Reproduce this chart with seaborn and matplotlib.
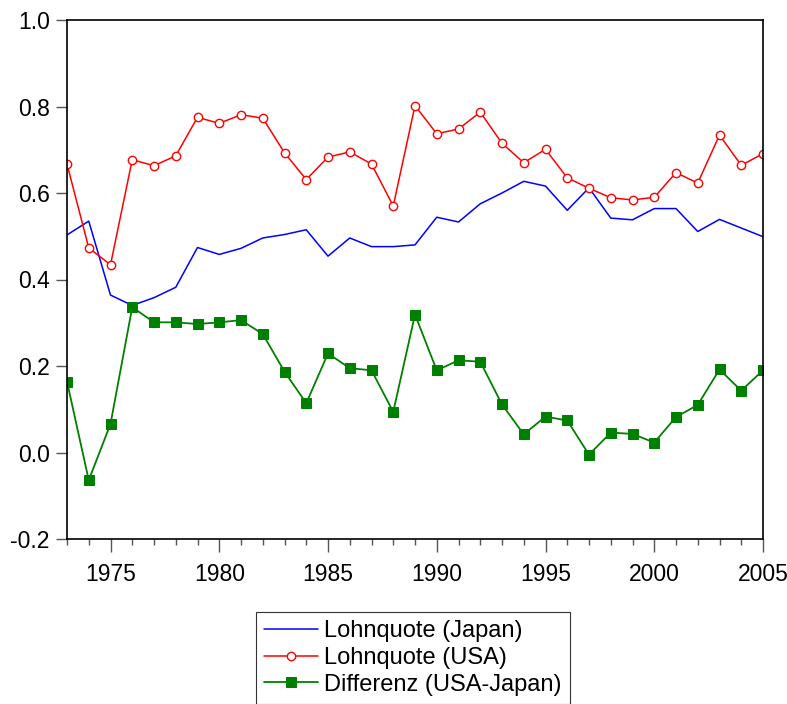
import matplotlib
matplotlib.use("Agg")
import matplotlib.pyplot as plt
from matplotlib.ticker import MultipleLocator
import seaborn as sns
import pandas as pd

years = list(range(1973, 2006))
japan = [0.503, 0.535, 0.364, 0.340, 0.358, 0.382, 0.474, 0.458, 0.472, 0.496,
         0.504, 0.515, 0.454, 0.496, 0.476, 0.476, 0.480, 0.544, 0.533, 0.575,
         0.600, 0.627, 0.616, 0.560, 0.612, 0.542, 0.538, 0.564, 0.564, 0.511,
         0.539, 0.519, 0.499]
usa = [0.667, 0.473, 0.434, 0.677, 0.663, 0.686, 0.775, 0.761, 0.781, 0.773,
       0.693, 0.631, 0.683, 0.695, 0.667, 0.570, 0.802, 0.737, 0.748, 0.787,
       0.715, 0.670, 0.701, 0.635, 0.611, 0.589, 0.584, 0.590, 0.647, 0.623,
       0.734, 0.664, 0.691]
diff = [0.164, -0.064, 0.066, 0.336, 0.301, 0.301, 0.297, 0.301, 0.306, 0.274,
        0.187, 0.114, 0.229, 0.195, 0.190, 0.094, 0.319, 0.190, 0.213, 0.210,
        0.111, 0.042, 0.083, 0.074, -0.005, 0.046, 0.043, 0.023, 0.082, 0.110,
        0.192, 0.143, 0.190]
labels = ["Lohnquote (Japan)", "Lohnquote (USA)", "Differenz (USA-Japan)"]
xticks = [1975, 1980, 1985, 1990, 1995, 2000, 2005]
yticks = [-0.2, 0.0, 0.2, 0.4, 0.6, 0.8, 1.0]

df = pd.DataFrame({"year": years, "japan": japan, "usa": usa, "diff": diff})

sns.set_style("white")
plt.rcParams["font.family"] = ["Liberation Sans", "DejaVu Sans"]
plt.rcParams["text.color"] = "black"

fig = plt.figure(figsize=(7.87, 7.04), dpi=100)
ax = fig.add_axes([67 / 787, 1 - 539 / 704, (763 - 67) / 787, (539 - 20) / 704])

sns.lineplot(data=df, x="year", y="japan", ax=ax, color="#0000ff", lw=1.1,
             label=labels[0])
sns.lineplot(data=df, x="year", y="usa", ax=ax, color="#ff0000", lw=1.1,
             marker="o", markersize=6, markerfacecolor="white",
             markeredgecolor="#ff0000", markeredgewidth=1.0, label=labels[1])
sns.lineplot(data=df, x="year", y="diff", ax=ax, color="#008000", lw=1.3,
             marker="s", markersize=6.5, markerfacecolor="#008000",
             markeredgecolor="#008000", label=labels[2])

ax.set_xlim(1973, 2005)
ax.set_ylim(-0.2, 1.0)
ax.set_xlabel("")
ax.set_ylabel("")
ax.xaxis.set_minor_locator(MultipleLocator(1))
ax.set_xticks(xticks)
ax.set_yticks(yticks)
ax.set_yticklabels([f"{v:.1f}" for v in yticks])
ax.tick_params(axis="x", which="major", direction="out", length=9,
               width=1, color="#555555", labelsize=16.5, pad=8,
               labelcolor="black", bottom=True, top=False)
ax.tick_params(axis="x", which="minor", direction="out", length=4.5,
               width=1, color="#555555", bottom=True, top=False)
ax.tick_params(axis="y", which="major", direction="out", length=8,
               width=1, color="#555555", labelsize=16.5, pad=4.5,
               labelcolor="black", left=True, right=False)
for s in ax.spines.values():
    s.set_color("black")
    s.set_linewidth(1.2)

leg = ax.legend(loc="upper center", bbox_to_anchor=(413 / 787, 1 - 612 / 704),
                bbox_transform=fig.transFigure, frameon=True, fancybox=False,
                edgecolor="black", fontsize=17, handlelength=2.3,
                handletextpad=0.25, labelspacing=0.2, borderpad=0.35,
                borderaxespad=0)
leg.get_frame().set_linewidth(0.8)
for t in leg.get_texts():
    t.set_color("black")

fig.savefig("out.png", dpi=100)
